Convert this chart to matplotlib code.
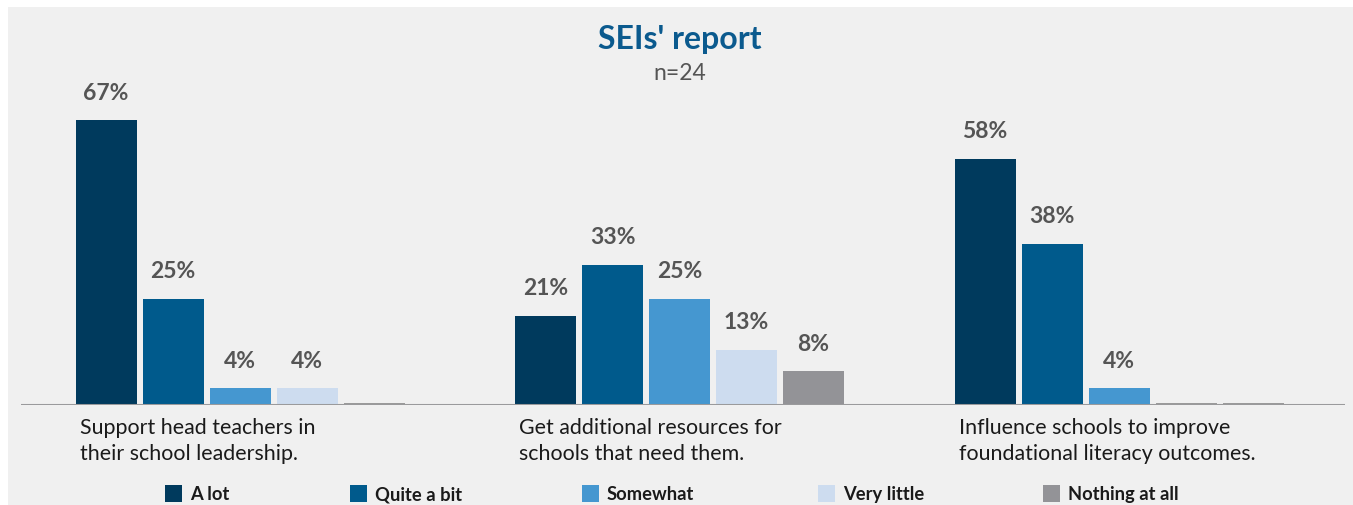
import matplotlib.pyplot as plt
from matplotlib.patches import Rectangle

plt.rcParams['font.family'] = ['Lato', 'DejaVu Sans']

categories = [
    "Support head teachers in\ntheir school leadership.",
    "Get additional resources for\nschools that need them.",
    "Influence schools to improve\nfoundational literacy outcomes.",
]
responses = ["A lot", "Quite a bit", "Somewhat", "Very little", "Nothing at all"]
a_lot = [67, 21, 58]
quite_a_bit = [25, 33, 38]
somewhat = [4, 25, 4]
very_little = [4, 13, 0]
nothing_at_all = [0, 8, 0]
colors = ["#003a5d", "#005a8c", "#4597d0", "#cddcef", "#939397"]

series = [a_lot, quite_a_bit, somewhat, very_little, nothing_at_all]

W, H = 1353, 506
fig = plt.figure(figsize=(W / 100, H / 100), dpi=100)
fig.patch.set_facecolor("white")
fig.patches.append(Rectangle((8 / W, 0), 1 - 8 / W, 1 - 8 / H, transform=fig.transFigure,
                             facecolor="#f0f0f0", edgecolor="none", zorder=-5))

ax_left, ax_right = 21 / W, 1345 / W
base = 1 - 406 / H
ymax = 80
ax = fig.add_axes([ax_left, base, ax_right - ax_left, 340 / H])
ax.set_facecolor("none")
ax.set_zorder(2)

step = 67.0
group_gap = 439.5 / step
first = (106 - 21) / step
width = 61 / step

for j, (vals, col) in enumerate(zip(series, colors)):
    for g, v in enumerate(vals):
        x = first + g * group_gap + j
        if v > 0:
            ax.bar(x, v, width=width, color=col, linewidth=0, zorder=2)
            ax.text(x, v + 4.1, f"{v}%", ha="center", va="bottom", fontsize=16.5,
                    fontweight="bold", color="#555555")
        else:
            ax.bar(x, 0.5, width=width, color="#9a9a9a", linewidth=0, zorder=2)

for g, cat in enumerate(categories):
    x = first + g * group_gap - width / 2 + 0.06
    ax.text(x, -2.9, cat, ha="left", va="top", fontsize=15.4, color="#1a1a1a",
            linespacing=1.35)

ax.axhline(0, color="#9a9a9c", linewidth=2.2, zorder=3)
ax.set_xlim(0, (1345 - 21) / step)
ax.set_ylim(0, ymax)
ax.axis("off")

fig.text(680 / W, 1 - 40 / H, "SEIs' report", ha="center", va="center", fontsize=23,
         fontweight="bold", color="#0b5a8e")
fig.text(680 / W, 1 - 73 / H, "n=24", ha="center", va="center", fontsize=16.5,
         color="#555555")

legend_x = [165, 350, 582, 818, 1043]
for lx, lab, col in zip(legend_x, responses, colors):
    fig.patches.append(Rectangle((lx / W, 1 - 503 / H), 17 / W, 17 / H,
                                 transform=fig.transFigure, facecolor=col,
                                 edgecolor="none"))
    fig.text((lx + 25) / W, 1 - 495 / H, lab, ha="left", va="center", fontsize=13.2,
             fontweight="bold", color="#1a1a1a")

fig.savefig("out.png", dpi=100)
